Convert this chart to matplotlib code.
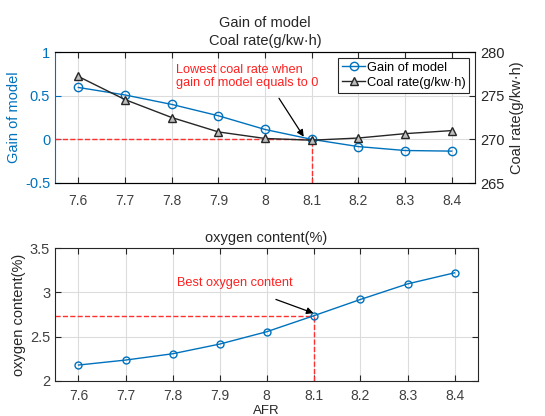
import matplotlib
matplotlib.use("Agg")
import matplotlib.pyplot as plt

plt.rcParams['font.family'] = ['Liberation Sans', 'DejaVu Sans']

afr = [7.6, 7.7, 7.8, 7.9, 8.0, 8.1, 8.2, 8.3, 8.4]
afr_labels = ['7.6', '7.7', '7.8', '7.9', '8', '8.1', '8.2', '8.3', '8.4']
gain = [0.594, 0.508, 0.40, 0.27, 0.113, 0.0, -0.083, -0.128, -0.135]
coal = [277.2, 274.55, 272.5, 270.85, 270.1, 269.9, 270.15, 270.65, 271.0]
oxygen = [2.18, 2.236, 2.307, 2.416, 2.555, 2.735, 2.92, 3.095, 3.22]
best_afr = 8.1
best_oxy = 2.735

blue = '#0072BD'
dark = '#262626'
fs = 10

fig = plt.figure(figsize=(5.45, 4.16), dpi=100)
W, H = 545, 416
ax1 = fig.add_axes([55 / W, 1 - 183 / H, 420 / W, 131 / H])
ax3 = fig.add_axes([55 / W, 1 - 381 / H, 423 / W, 133 / H])

arrow = dict(arrowstyle='-|>', color='black', lw=0.9, mutation_scale=10,
             shrinkA=0, shrinkB=0)

# ---------- top panel ----------
ax1.set_xlim(7.55, 8.45)
ax1.set_ylim(-0.5, 1)
ax1.set_xticks(afr)
ax1.set_xticklabels(afr_labels)
ax1.set_yticks([-0.5, 0, 0.5, 1])
ax1.set_yticklabels(['-0.5', '0', '0.5', '1'])
ax1.grid(True, color='#dcdcdc', lw=0.8)
ax1.set_axisbelow(True)
ax1.plot([7.55, best_afr], [0, 0], '--', color='#FF3030', lw=1.0, zorder=2)
ax1.plot([best_afr, best_afr], [-0.5, 0], '--', color='#FF3030', lw=1.0, zorder=2)
l1, = ax1.plot(afr, gain, '-o', color=blue, mfc='none', ms=6, lw=1.0,
               label='Gain of model', zorder=3)
ax1.set_ylabel('Gain of model', color=blue, fontsize=fs + 0.5, labelpad=3)
ax1.tick_params(axis='y', colors=blue, labelsize=fs + 0.5, direction='in', length=4)
ax1.tick_params(axis='x', colors=dark, labelsize=fs, direction='in', length=4, top=True, pad=8)
ax1.spines['left'].set_color(blue)
for s in ['top', 'bottom']:
    ax1.spines[s].set_color(dark)
ax1.spines['right'].set_visible(False)
for lab in ax1.get_xticklabels():
    lab.set_color('#404040')

ax2 = ax1.twinx()
ax2.set_ylim(265, 280)
ax2.set_yticks([265, 270, 275, 280])
l2, = ax2.plot(afr, coal, '-^', color=dark, mfc='#bdbdbd', mec=dark, ms=6, lw=1.0,
               label='Coal rate(g/kw\u00b7h)', zorder=3)
ax2.set_ylabel('Coal rate(g/kw\u00b7h)', color=dark, fontsize=fs + 0.5, labelpad=4)
ax2.tick_params(axis='y', colors=dark, labelsize=fs + 0.5, direction='in', length=4)
ax2.spines['left'].set_visible(False)
ax2.spines['right'].set_color(dark)

ax1.set_title('Gain of model\nCoal rate(g/kw\u00b7h)', fontsize=fs + 0.5, color=dark,
              pad=5, linespacing=1.4)

leg = ax2.legend(handles=[l1, l2], loc='upper right', fontsize=9.3,
                 frameon=True, fancybox=False, edgecolor=dark, framealpha=1,
                 borderpad=0.3, handlelength=1.8, handletextpad=0.1,
                 labelspacing=0.25, borderaxespad=0.45)
leg.get_frame().set_linewidth(0.8)

ax2.annotate('', xy=(8.083, 270.3), xytext=(8.03, 274.7), arrowprops=arrow, zorder=5)
ax1.text(7.81, 0.86, 'Lowest coal rate when\ngain of model equals to 0',
         color='#FF2020', fontsize=9.2, ha='left', va='top', linespacing=1.1)

# ---------- bottom panel ----------
ax3.set_xlim(7.55, 8.45)
ax3.set_ylim(2, 3.5)
ax3.set_xticks(afr)
ax3.set_xticklabels(afr_labels)
ax3.set_yticks([2, 2.5, 3, 3.5])
ax3.set_yticklabels(['2', '2.5', '3', '3.5'])
ax3.grid(True, color='#dcdcdc', lw=0.8)
ax3.set_axisbelow(True)
ax3.plot([7.55, best_afr], [best_oxy, best_oxy], '--', color='#FF3030', lw=1.0, zorder=2)
ax3.plot([best_afr, best_afr], [2, best_oxy], '--', color='#FF3030', lw=1.0, zorder=2)
ax3.plot(afr, oxygen, '-o', color=blue, mfc='none', ms=5, lw=1.0, zorder=3)
ax3.tick_params(colors=dark, labelsize=fs + 0.5, direction='in', length=4,
                top=True, right=True)
ax3.tick_params(axis='x', pad=6, labelsize=fs)
for s in ax3.spines.values():
    s.set_color(dark)
for lab in ax3.get_xticklabels() + ax3.get_yticklabels():
    lab.set_color('#404040')
ax3.set_ylabel('oxygen content(%)', color=dark, fontsize=fs + 0.5, labelpad=3)
ax3.set_xlabel('AFR', color=dark, fontsize=9.5, labelpad=1)
ax3.set_title('oxygen content(%)', fontsize=fs + 0.5, color=dark, pad=4)
ax3.annotate('', xy=(8.1, 2.765), xytext=(8.02, 2.92), arrowprops=arrow, zorder=5)
ax3.text(7.81, 3.11, 'Best oxygen content', color='#FF2020', fontsize=9.2,
         ha='left', va='center')

fig.savefig('out.png', dpi=100)
